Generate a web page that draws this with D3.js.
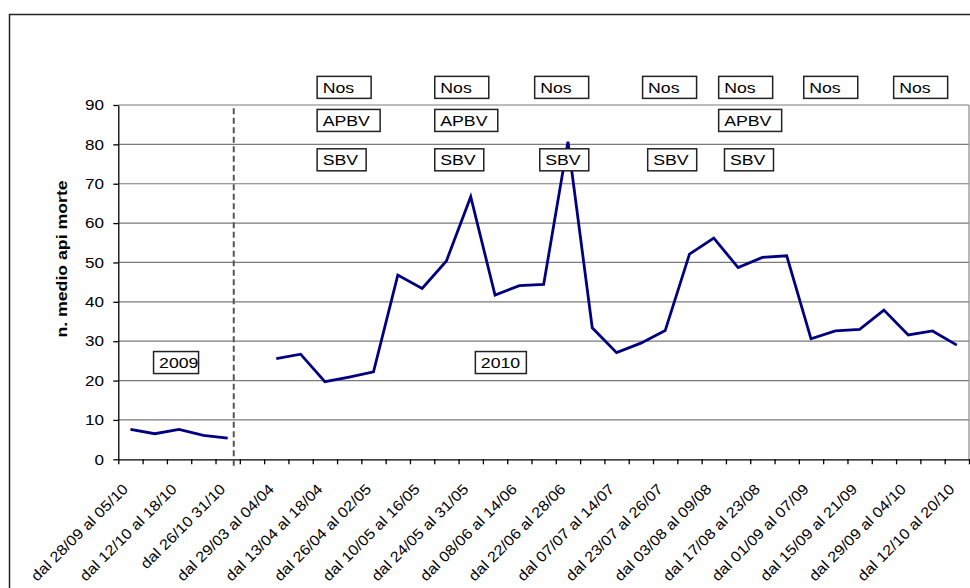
<!DOCTYPE html>
<html>
<head>
<meta charset="utf-8">
<script src="https://cdn.jsdelivr.net/npm/d3@7"></script>
<style>
  body { margin: 0; background: #fff; }
  svg { display: block; font-family: "Liberation Sans", Arial, sans-serif; }
</style>
</head>
<body>
<svg width="970" height="588"></svg>
<script>
// categories (35 weekly periods, only every other one is labelled)
var categories = [
  "dal 28/09 al 05/10", "", "dal 12/10 al 18/10", "", "dal 26/10 31/10", "",
  "dal 29/03 al 04/04", "", "dal 13/04 al 18/04", "", "dal 26/04 al 02/05", "",
  "dal 10/05 al 16/05", "", "dal 24/05 al 31/05", "", "dal 08/06 al 14/06", "",
  "dal 22/06 al 28/06", "", "dal 07/07 al 14/07", "", "dal 23/07 al 26/07", "",
  "dal 03/08 al 09/08", "", "dal 17/08 al 23/08", "", "dal 01/09 al 07/09", "",
  "dal 15/09 al 21/09", "", "dal 29/09 al 04/10", "", "dal 12/10 al 20/10"
];

// 2009 series: categories 0..4
var values2009 = [7.6, 6.5, 7.6, 6.1, 5.4];
// 2010 series: categories 6..34
var values2010 = [25.6, 26.7, 19.7, 20.9, 22.2, 46.8, 43.4, 50.4, 66.7, 41.7,
                  44.1, 44.4, 80.7, 33.4, 27.1, 29.5, 32.7, 52.1, 56.2, 48.7,
                  51.3, 51.7, 30.6, 32.6, 33.0, 37.9, 31.6, 32.6, 29.0];
var start2009 = 0, start2010 = 6;

var yTicks = [0, 10, 20, 30, 40, 50, 60, 70, 80, 90];

// text boxes drawn over the chart: [label, category index of left edge, value of top edge, box width px]
var notes = [
  ["Nos", 8.16, 97.4, 54], ["Nos", 13.0, 97.4, 54], ["Nos", 17.11, 97.4, 54], ["Nos", 21.55, 97.4, 54],
  ["Nos", 24.68, 97.4, 54], ["Nos", 28.18, 97.4, 54], ["Nos", 31.88, 97.4, 54],
  ["APBV", 8.16, 89.0, 63], ["APBV", 13.0, 89.0, 63], ["APBV", 24.68, 89.0, 63],
  ["SBV", 8.16, 79.0, 49], ["SBV", 13.0, 79.0, 49], ["SBV", 17.32, 79.0, 49],
  ["SBV", 21.76, 79.0, 49], ["SBV", 24.92, 79.0, 49],
  ["2009", 1.43, 27.5, 45], ["2010", 14.67, 27.5, 51]
];
var yearSplit = 4.75;

drawChart();

function drawChart() {
  var SX = 1.18; // glyphs in the original are wider than Liberation Sans
  var SXL = 1.12; // a bit less for the slanted category labels
  var svg = d3.select("svg");
  var pLeft = 118.3, pRight = 969, pTop = 105, pBottom = 459.3;

  var x = d3.scaleLinear().domain([0, categories.length]).range([pLeft, pRight]);
  var y = d3.scaleLinear().domain([0, 90]).range([pBottom, pTop]);

  // outer chart border
  svg.append("rect")
    .attr("x", 9.5).attr("y", 14.5).attr("width", 990).attr("height", 620)
    .attr("fill", "#fff").attr("stroke", "#222").attr("stroke-width", 1.5);

  // gridlines
  svg.append("g").selectAll("line")
    .data(yTicks.filter(function(d) { return d > 0; }))
    .enter().append("line")
    .attr("x1", pLeft).attr("x2", pRight)
    .attr("y1", function(d) { return y(d); }).attr("y2", function(d) { return y(d); })
    .attr("stroke", "#7a7a7a").attr("stroke-width", 1.2);

  // plot right border
  svg.append("line")
    .attr("x1", pRight).attr("x2", pRight).attr("y1", pTop).attr("y2", pBottom)
    .attr("stroke", "#8a8a8a").attr("stroke-width", 1.2);

  // y axis
  var yAxis = svg.append("g")
    .attr("transform", "translate(" + pLeft + ",0)")
    .call(d3.axisLeft(y).tickValues(yTicks).tickSize(5).tickSizeOuter(0).tickFormat(""));
  yAxis.selectAll("path,line").attr("stroke", "#000").attr("stroke-width", 1.3);

  svg.append("g").selectAll("text")
    .data(yTicks)
    .enter().append("text")
    .attr("transform", function(d) { return "translate(104," + y(d) + ") scale(" + SX + ",1)"; })
    .attr("dy", "0.36em")
    .attr("text-anchor", "end")
    .attr("font-size", 14.5)
    .text(function(d) { return d; });

  // x axis with ticks between categories
  var xAxis = svg.append("g")
    .attr("transform", "translate(0," + pBottom + ")")
    .call(d3.axisBottom(x).tickValues(d3.range(categories.length + 1)).tickSize(5).tickSizeOuter(0).tickFormat(""));
  xAxis.selectAll("path,line").attr("stroke", "#000").attr("stroke-width", 1.3);

  svg.append("g").selectAll("text")
    .data(categories)
    .enter().append("text")
    .attr("transform", function(d, i) {
      return "translate(" + (x(i + 0.5) - 1.4) + ",490) rotate(-45) scale(" + SXL + ",1)";
    })
    .attr("text-anchor", "end")
    .attr("font-size", 14.6)
    .text(function(d) { return d; });

  // dashed separator between years
  svg.append("line")
    .attr("x1", x(yearSplit)).attr("x2", x(yearSplit))
    .attr("y1", y(89.2)).attr("y2", pBottom + 7)
    .attr("stroke", "#555").attr("stroke-width", 2)
    .attr("stroke-dasharray", "6,3.5");

  // series lines
  var line = d3.line()
    .x(function(d) { return x(d.i + 0.5); })
    .y(function(d) { return y(d.v); });

  [[values2009, start2009], [values2010, start2010]].forEach(function(s) {
    var pts = s[0].map(function(v, k) { return { i: s[1] + k, v: v }; });
    svg.append("path")
      .datum(pts)
      .attr("d", line)
      .attr("fill", "none")
      .attr("stroke", "#000080")
      .attr("stroke-width", 2.8)
      .attr("stroke-linejoin", "miter");
  });

  // annotation boxes
  var box = svg.append("g").selectAll("g")
    .data(notes)
    .enter().append("g")
    .attr("transform", function(d) { return "translate(" + x(d[1]) + "," + y(d[2]) + ")"; });
  box.append("rect")
    .attr("x", 0.5).attr("y", 0.5)
    .attr("width", function(d) { return d[3]; }).attr("height", 22)
    .attr("fill", "#fff").attr("stroke", "#222").attr("stroke-width", 1.5);
  box.append("text")
    .attr("transform", "translate(6,17) scale(" + SX + ",1)")
    .attr("font-size", 15)
    .text(function(d) { return d[0]; });

  // y axis title
  svg.append("text")
    .attr("transform", "translate(67,259) rotate(-90) scale(" + SX + ",1)")
    .attr("text-anchor", "middle")
    .attr("font-size", 15)
    .attr("font-weight", "bold")
    .text("n. medio api morte");
}
</script>
</body>
</html>
